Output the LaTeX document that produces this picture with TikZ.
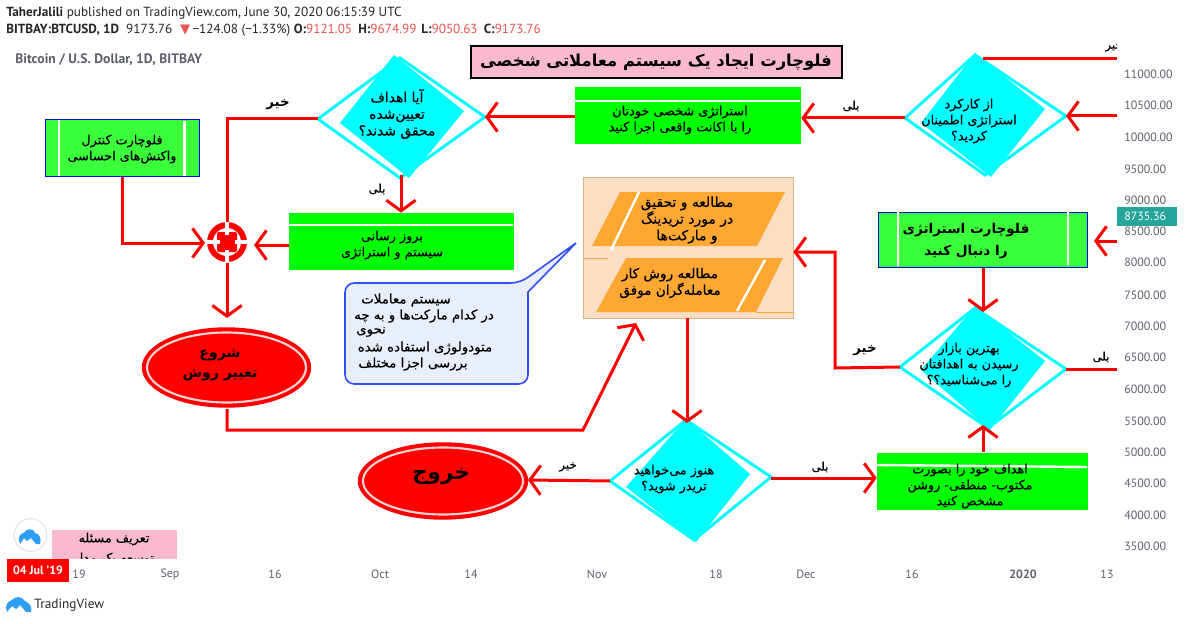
\documentclass[tikz,border=0pt]{standalone}
\usepackage{fontspec}
\usetikzlibrary{arrows.meta,fit,calc,shapes.geometric}
\setmainfont{PT Sans}
\TeXXeTstate=1
\newfontfamily\arabicfont[Script=Arabic,FakeBold=0.35]{DejaVu Sans}
\newfontfamily\arabicbold[Script=Arabic]{DejaVu Sans Bold}
\newfontfamily\symfont{DejaVu Sans}
\newcommand{\fa}[1]{\beginR #1\endR}
\definecolor{redl}{HTML}{FF0000}
\definecolor{cy}{HTML}{00FFFF}
\definecolor{grn}{HTML}{00FF00}
\definecolor{lgrn}{HTML}{3CFF3C}
\definecolor{pinkb}{HTML}{F9B9CF}
\definecolor{orangep}{HTML}{FFA733}
\definecolor{peach}{HTML}{FADFC4}
\definecolor{axis}{HTML}{5D606B}
\definecolor{priceup}{HTML}{EF5350}
\definecolor{tvblue}{HTML}{2E9EF5}
\definecolor{callfill}{HTML}{E8EEFB}
\definecolor{callline}{HTML}{2F4FF0}
\definecolor{tagc}{HTML}{26A69A}
\tikzset{
 x=0.75pt,y=-0.75pt,
 flow/.style={draw=redl,line width=2.25pt,line join=miter,-{Straight Barb[length=8pt,width=22pt,line width=2.25pt]}},
 plain/.style={draw=redl,line width=2.25pt},
 gbox/.style={fill=grn,inner sep=0pt},
 lbox/.style={fill=lgrn,draw=blue,line width=0.75pt,inner sep=0pt},
 wline/.style={draw=white,line width=1.8pt},
 dia/.style={draw=cy,fill=white,line width=2.2pt,line join=miter},
 diafill/.style={fill=cy},
 ell/.style={draw=redl,fill=redl,line width=1.8pt},
 ering/.style={draw=white!82!red,line width=1.6pt},
 fatext/.style={font=\arabicfont\fontsize{9.6}{12}\selectfont,align=center,inner sep=0pt,text=black},
 calltext/.style={font=\arabicfont\fontsize{10}{12}\selectfont,inner sep=0pt,text=black},
 labtext/.style={font=\arabicfont\fontsize{8.8}{11}\selectfont,inner sep=0pt,text=black},
 labbold/.style={font=\arabicbold\fontsize{10}{11}\selectfont,inner sep=0pt,text=black},
 axlab/.style={font=\fontsize{9}{11}\selectfont,text=axis,inner sep=0pt},
 hdr/.style={font=\fontsize{9.9}{11}\selectfont,anchor=west,inner sep=0pt,text=black!85},
}
\begin{document}
\begin{tikzpicture}
\useasboundingbox (0,0) rectangle (1188,624);
\fill[white] (0,0) rectangle (1188,624);
% header
\node[hdr] (h1) at (6,13) {\textbf{TaherJalili} published on TradingView.com, June 30, 2020 06:15:39 UTC};
\node[hdr] (h2) at (6,30) {\textbf{BITBAY:BTCUSD, 1D}\ \ 9173.76\kern6pt\textcolor{priceup}{\symfont ▼}\,−124.08 (−1.33\%)\ \textbf{O:}\textcolor{priceup}{9121.05}\kern2pt\ \textbf{H:}\textcolor{priceup}{9674.99}\kern1pt\ \textbf{L:}\textcolor{priceup}{9050.63}\kern2pt\ \textbf{C:}\textcolor{priceup}{9173.76}};
\node[hdr,text=axis,font=\fontsize{10.25}{11}\selectfont] (h3) at (15,60) {\textbf{Bitcoin / U.S. Dollar, 1D, BITBAY}};
% title
\node[fit={(471,46)(842,78)},fill=pinkb,draw=black,line width=2pt,inner sep=0pt] (title) {};
\node[font=\arabicbold\fontsize{12.3}{15}\selectfont,inner sep=0pt] (titlet) at (656,62) {\fa{فلوچارت ایجاد یک سیستم معاملاتی شخصی}};
% panel
\node[fit={(583,177)(793,318)},fill=peach,draw=brown!60,line width=0.5pt,inner sep=0pt] (panel) {};
\fill[orangep] (620,192) -- (785,192) -- (757,246) -- (592,246) -- cycle;
\fill[orangep] (626,258) -- (783,258) -- (756,312) -- (596,312) -- cycle;
\draw[orangep,line width=0.6pt] (756,312) -- (793,312) (583,258) -- (608,258);
\draw[wline] (639,192) -- (611,250);
\draw[wline] (765,260) -- (737,311);
\node[fatext,font=\arabicfont\fontsize{10.4}{12.5}\selectfont] (pt1) at (687,220) {\fa{مطالعه و تحقیق}\\\fa{در مورد تریدینگ}\\\fa{و مارکت‌ها}};
\node[fatext,font=\arabicfont\fontsize{10.2}{12.5}\selectfont] (pt2) at (670,283) {\fa{مطالعه روش کار}\\\fa{معامله‌گران موفق}};
% green boxes
\node[fit={(575,87)(801,144)},gbox] (b1) {};
\draw[wline] (575,101) -- (800,101);
\node[fatext] (b1t) at (680,120) {\fa{استراتژی شخصی خودتان}\\\fa{را با اکانت واقعی اجرا کنید}};
\node[fit={(289,213)(514,270)},gbox] (b2) {};
\draw[wline] (289,225) -- (513,225);
\node[fatext] (b2t) at (392,245) {\fa{بروز رسانی}\\\fa{سیستم و استراتژی}};
\node[fit={(877,453)(1088,510)},gbox] (b3) {};
\draw[wline] (877,465) -- (1087,467);
\node[fatext] (b3t) at (970,486) {\fa{اهداف خود را  بصورت}\\\fa{مکتوب- منطقی- روشن}\\\fa{مشخص کنید}};
\node[fit={(45,120)(199,177)},lbox] (g1) {};
\draw[wline] (59,120) -- (59,176) (184.5,121) -- (184.5,176);
\node[fatext] (g1t) at (122,149) {\fa{فلوچارت کنترل}\\\fa{واکنش‌های احساسی}};
\node[fit={(878,212)(1087,267)},lbox] (g2) {};
\draw[wline] (898,212) -- (898,266) (1068,212) -- (1068,265);
\node[fatext,font=\arabicbold\fontsize{10.2}{16}\selectfont] (g2t) at (966,241) {\fa{فلوچارت استراتژی}\\\fa{را دنبال کنید}};
% diamonds
\coordinate (d1w) at (318,119); \coordinate (d1e) at (485,117); \coordinate (d1s) at (401,175);
\draw[dia] (d1w) -- (400,58) -- (d1e) -- (400,178) -- cycle;
\fill[diafill] (394,55) -- (464,111) -- (409,178) -- (340,123) -- cycle;
\node[fatext,font=\arabicfont\fontsize{10.4}{12.5}\selectfont] (d1t) at (397,114) {\fa{آیا اهداف}\\\fa{تعیین‌شده}\\\fa{محقق شدند؟}};
\coordinate (d2w) at (905,118); \coordinate (d2e) at (1066,116); \coordinate (d2n) at (983,59);
\draw[dia] (d2w) -- (975,55) -- (d2e) -- (985,175) -- cycle;
\fill[diafill] (975,53) -- (1045,109) -- (991,177) -- (921,123) -- cycle;
\node[fatext] (d2t) at (969,121) {\fa{از کارکرد}\\\fa{استراتژی اطمینان}\\\fa{کردید؟}};
\coordinate (d4w) at (900,367); \coordinate (d4e) at (1066,369); \coordinate (d4n) at (982,312); \coordinate (d4s) at (982,425);
\draw[dia] (d4w) -- (975,308) -- (d4e) -- (988,428) -- cycle;
\fill[diafill] (975,306) -- (1045,361) -- (990,430) -- (921,370) -- cycle;
\node[fatext] (d4t) at (969,365) {\fa{بهترین بازار}\\\fa{رسیدن به اهدافتان}\\\fa{را می‌شناسید؟؟}};
\coordinate (d3w) at (610,481); \coordinate (d3e) at (771,477); \coordinate (d3n) at (687,423);
\draw[dia] (d3w) -- (686,420) -- (d3e) -- (694,540) -- cycle;
\fill[diafill] (686,419) -- (750,474) -- (696,542) -- (626,487) -- cycle;
\node[fatext] (d3t) at (674,479) {\fa{هنوز می‌خواهید}\\\fa{تریدر شوید؟}};
% ellipses
\node[ell,ellipse,minimum width=167*0.75pt,minimum height=78*0.75pt,inner sep=0pt] (start) at (226.5,367.5) {};
\draw[ering] (start.center) ellipse [x radius=79.5,y radius=35];
\node[fatext,font=\arabicbold\fontsize{10.6}{15}\selectfont] (startt) at (220,365) {\fa{شروع}\\\fa{تغییر روش}};
\node[ell,ellipse,minimum width=168*0.75pt,minimum height=75*0.75pt,inner sep=0pt] (exit) at (443,481) {};
\draw[ering] (exit.center) ellipse [x radius=80,y radius=33.5];
\node[fatext,font=\arabicbold\fontsize{16}{18}\selectfont] (exitt) at (441,476) {\fa{خروج}};
% target
\coordinate (tc) at (227,242);
\node[circle,minimum size=30pt,inner sep=0pt] (target) at (tc) {};
\draw[redl,line width=4.4pt] (tc) circle [radius=17];
\fill[redl,rounded corners=1.5pt] (217,232) rectangle (237,252);
\draw[white,line width=3pt] (227,219) -- (227,234.5) (227,249.5) -- (227,265) (204,242) -- (219.5,242) (234.5,242) -- (250,242);
% callout
\draw[draw=callline,fill=callfill,line width=1.2pt,rounded corners=7pt] (345,283) -- (520,283) [sharp corners] -- (576,243) -- (528,292) [rounded corners=7pt] -- (528,384) -- (345,384) -- cycle;
\node[calltext] (c1) at (406,300) {\fa{سیستم معاملات}};
\node[calltext] (c2) at (424,316) {\fa{در کدام مارکت‌ها و به چه}};
\node[calltext] (c3) at (371,332) {\fa{نحوی}};
\node[calltext] (c4) at (425,348) {\fa{متودولوژی استفاده شده}};
\node[calltext] (c5) at (413,364) {\fa{بررسی اجزا مختلف}};
% connectors
\coordinate (r1) at (1117,116); \coordinate (r2) at (1117,241); \coordinate (r3) at (1117,369); \coordinate (r4) at (1117,59);
\draw[flow] (r1) -- (d2e);
\draw[plain] (d2n) -- (r4);
\draw[flow] (d2w) -- (b1.east |- d2w);
\draw[flow] (b1.west |- d1e) -- (d1e);
\draw[plain] (d1w) -- (227,119) -- (227,222);
\draw[flow] (d1s) -- (b2.north -| d1s);
\draw[flow] (b2.west |- 0,245) -- (254,245);
\draw[flow] (g1.south) |- (205,243);
\draw[flow] (227,263) -- (227,318);
\draw[flow] (227,409) -- (227,430) -- (583,430) -- (636,323);
\draw[flow] (687,318) -- (d3n);
\draw[flow] (d3w) -- (528,480);
\draw[flow] (d3e |- 0,478) -- (b3.west |- 0,478);
\draw[flow] (983,452) -- (983,425);
\draw[flow] (983,268) -- (983,312);
\draw[flow] (r2) -- (1094,241);
\draw[plain] (d4e) -- (r3);
\draw[flow] (d4w) -- (835,368) -- (835,252) -- (panel.east |- 0,252);
% labels
\node[labbold] (l1) at (278,105) {\fa{خیر}};
\node[labtext] (l2) at (377,189) {\fa{بلی}};
\node[labtext] (l3) at (851,106) {\fa{بلی}};
\node[labbold] (l4) at (865,351) {\fa{خیر}};
\node[labtext] (l5) at (1101,357) {\fa{بلی}};
\node[labtext] (l6) at (820,467) {\fa{بلی}};
\node[labtext] (l7) at (568,467) {\fa{خیر}};
\begin{scope}
\clip (1095,30) rectangle (1117,60);
\node[labtext] (l8) at (1114,47) {\fa{خیر}};
\end{scope}
% axis
\foreach \v/\y in {11000.00/74,10500.00/105,10000.00/137,9500.00/169,9000.00/200,8500.00/231,8000.00/262,7500.00/295,7000.00/326,6500.00/357,6000.00/389,5500.00/421,5000.00/452,4500.00/483,4000.00/515,3500.00/546}
  \node[axlab,anchor=west] (y\y) at (1124,\y) {\v};
\node[fit={(1117,207)(1177,226)},fill=tagc,inner sep=0pt] (tag) {};
\node[axlab,anchor=west,text=white] (tagt) at (1124,216.5) {8735.36};
\foreach \t/\x in {19/79,Sep/170,16/275,Oct/380,14/471,Nov/597,18/716,Dec/806,16/912,13/1107}
  \node[axlab] (x\x) at (\x,574) {\t};
\node[axlab,font=\bfseries\fontsize{9}{11}\selectfont] (x2020) at (1023,574) {2020};
% pink clipped box
\begin{scope}
\clip (40,525) rectangle (190,558);
\node[fit={(52,530)(177,570)},fill=pinkb,inner sep=0pt] (pk) {};
\node[fatext] (pk1) at (114,539) {\fa{تعریف مسئله}};
\node[fatext] (pk2) at (114,559) {\fa{توسعه یک مدل}};
\end{scope}
\node[fit={(7,559)(69,582)},fill=redl,inner sep=0pt] (dt) {};
\node[axlab,text=white,font=\bfseries\fontsize{9}{11}\selectfont] (dtt) at (38,570.5) {04 Jul '19};
% logos
\node[circle,draw=black!12,fill=white,line width=0.7pt,minimum size=24.5pt,inner sep=0pt] (lg) at (30.5,535) {};
\fill[tvblue] (20,544) .. controls (17,538) and (20,533) .. (24,533) .. controls (26,528) and (34,528) .. (35,533) .. controls (39,533) and (42,539) .. (40,544) -- (36,544) -- (31,538) -- (27,541) -- (24,538) -- cycle;
\fill[tvblue] (7,612) .. controls (4,606) and (8,601) .. (12,600) .. controls (15,596) and (22,596) .. (25,601) .. controls (29,603) and (33,607) .. (31,612) -- (26,612) -- (20,605) -- (16,609) -- (12,606) -- cycle;
\node[hdr,font=\fontsize{10}{11}\selectfont] (tv) at (34,605) {TradingView};
\end{tikzpicture}
\end{document}
